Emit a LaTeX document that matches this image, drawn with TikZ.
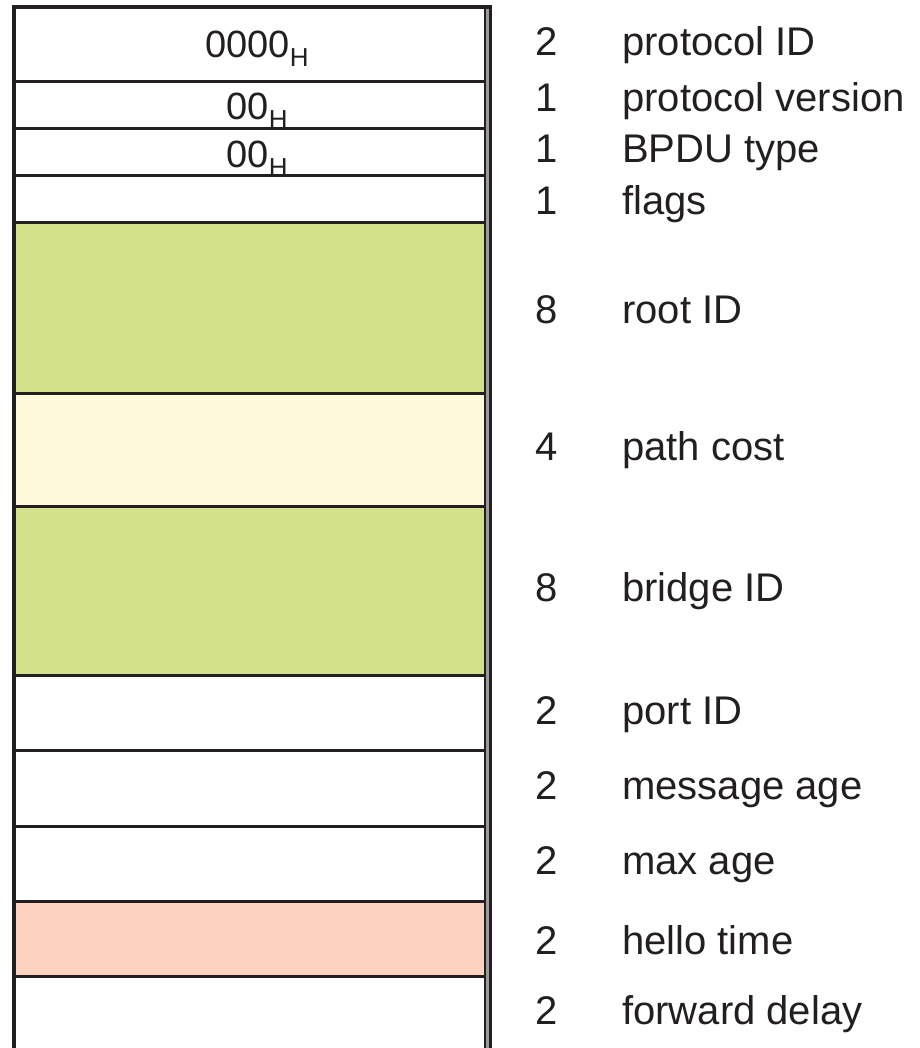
\documentclass[tikz,border=0pt]{standalone}
\usepackage{fontspec}
\setmainfont{Liberation Sans}
\definecolor{ink}{HTML}{231F20}
\definecolor{fgreen}{RGB}{211,226,138}
\definecolor{fyellow}{RGB}{254,249,218}
\definecolor{fsalmon}{RGB}{252,211,192}
\newcommand{\subH}{\raisebox{-9pt}{\fontsize{26}{30}\selectfont H}}
\newcommand{\valfont}{\fontsize{38}{44}\selectfont}
\newcommand{\bigfont}{\fontsize{40}{46}\selectfont}
\tikzset{
  bigtext/.style={font={\bigfont}, text=ink, inner sep=0pt},
  valtext/.style={font={\valfont}, text=ink, inner sep=0pt, anchor=base},
  numtext/.style={bigtext, anchor=base},
  nametext/.style={bigtext, anchor=base west},
  rowline/.style={draw=ink, line width=3pt}}
\begin{document}
\begin{tikzpicture}[x=1pt,y=-1pt]
\useasboundingbox (0,0) rectangle (919,1048);
% fills
\fill[fgreen] (16,223) rectangle (485,393);
\fill[fyellow] (16,393) rectangle (485,506);
\fill[fgreen] (16,506) rectangle (485,675);
\fill[fsalmon] (16,901) rectangle (485,976);
% row separators
\foreach \yy in {82,129,176,223,393,506,675,750,826,901,976}
  \draw[rowline] (16,\yy) -- (485,\yy);
% borders
\fill[ink!45] (485,7) rectangle (489,1048);
\draw[ink, line width=1.5pt] (485,7) -- (485,1048);
\draw[ink, line width=3.3pt] (490.7,5) -- (490.7,1048);
\draw[ink, line width=4pt] (14,1048) -- (14,7) -- (492.3,7);
% values
\node[valtext] (v1) at (257,58) {0000\subH};
\node[valtext] (v2) at (257,120) {00\subH};
\node[valtext] (v3) at (257,168) {00\subH};
% sizes and names
\foreach \yy/\n/\t [count=\i] in {56/2/protocol ID, 112/1/protocol version, 163/1/BPDU type, 215/1/flags, 323/8/root ID, 460/4/path cost, 601/8/bridge ID, 724/2/port ID, 799/2/message age, 874/2/max age, 954/2/hello time, 1024/2/forward delay}{
  \node[numtext] (n\i) at (547,\yy) {\n};
  \node[nametext] (t\i) at (622,\yy) {\t};
}
\end{tikzpicture}
\end{document}
